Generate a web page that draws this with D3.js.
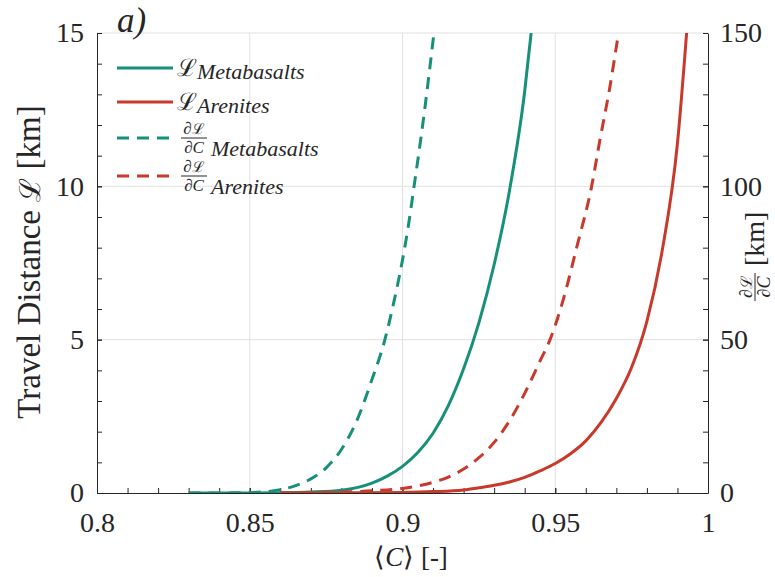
<!DOCTYPE html>
<html>
<head>
<meta charset="utf-8">
<script src="https://cdn.jsdelivr.net/npm/d3@7"></script>
<style>
  body { margin: 0; background: #fff; }
  svg { display: block; font-family: 'Liberation Serif', 'Times New Roman', serif; }
</style>
</head>
<body>
<svg id="chart" width="775" height="577"></svg>
<script>
/* values */
const metaL_C = [0.83, 0.85, 0.86, 0.87, 0.88, 0.89, 0.895, 0.9, 0.905, 0.91, 0.915, 0.92, 0.925, 0.93, 0.935, 0.94, 0.9421];
const metaL = [0, 0.002, 0.008, 0.03, 0.09, 0.32, 0.55, 0.87, 1.32, 1.95, 2.85, 4.05, 5.55, 7.45, 9.85, 13.1, 15];

const areL_C = [0.86, 0.88, 0.9, 0.91, 0.92, 0.925, 0.93, 0.935, 0.94, 0.945, 0.95, 0.955, 0.96, 0.965, 0.97, 0.975, 0.98, 0.985, 0.99, 0.993];
const areL = [0, 0.005, 0.02, 0.045, 0.1, 0.17, 0.25, 0.36, 0.51, 0.72, 0.96, 1.28, 1.7, 2.3, 3.08, 4.1, 5.6, 7.9, 11.4, 15];

const metaD_C = [0.83, 0.845, 0.855, 0.86, 0.865, 0.87, 0.875, 0.88, 0.885, 0.89, 0.8941, 0.897, 0.9, 0.9019, 0.9035, 0.907, 0.9103];
const metaD = [0, 0.05, 0.4, 1.1, 2.4, 4.6, 8.2, 14.2, 23.5, 37, 49.5, 61.5, 76, 87, 98, 123, 150];

const areD_C = [0.86, 0.88, 0.89, 0.9, 0.905, 0.91, 0.915, 0.92, 0.925, 0.93, 0.935, 0.94, 0.945, 0.9483, 0.9526, 0.957, 0.9619, 0.9646, 0.9679, 0.9707];
const areD = [0, 0.3, 0.7, 1.5, 2.3, 3.5, 5.2, 7.8, 11.5, 16.5, 23.5, 32.5, 43, 50, 63, 80, 100, 115, 132.5, 150];

const xTicks = [0.8, 0.85, 0.9, 0.95, 1];
const xTickLabels = ['0.8', '0.85', '0.9', '0.95', '1'];
const yLeftTicks = [0, 5, 10, 15];
const yRightTicks = [0, 50, 100, 150];

const GREEN = '#17907a';
const RED = '#c8392b';
const AXIS = '#262626';
const GRID = '#e1e1e1';
const SERIF = "'Liberation Serif', 'Times New Roman', serif";

const margin = { top: 33, right: 67, bottom: 84, left: 97 };
const totalWidth = 775;
const totalHeight = 577;
const width = totalWidth - margin.left - margin.right;
const height = totalHeight - margin.top - margin.bottom;
const STROKE_WIDTH = 3;
const TICK = 5;

const svg = d3.select('#chart');

const xScale = d3.scaleLinear([0.8, 1], [0, width]);
const yLeft = d3.scaleLinear([0, 15], [height, 0]);
const yRight = d3.scaleLinear([0, 150], [height, 0]);

const plot = svg.append('g').attr('transform', `translate(${margin.left}, ${margin.top})`);

/* grid */
plot.append('g')
  .selectAll('line')
  .data(xTicks.slice(1, -1))
  .enter()
  .append('line')
  .attr('x1', d => xScale(d)).attr('x2', d => xScale(d))
  .attr('y1', 0).attr('y2', height)
  .attr('stroke', GRID).attr('stroke-width', 1);

plot.append('g')
  .selectAll('line')
  .data(yLeftTicks.slice(1))
  .enter()
  .append('line')
  .attr('x1', 0).attr('x2', width)
  .attr('y1', d => yLeft(d)).attr('y2', d => yLeft(d))
  .attr('stroke', GRID).attr('stroke-width', 1);

/* axes */
function styleAxis(g) {
  g.attr('font-family', SERIF);
  g.selectAll('path').attr('stroke', AXIS).attr('stroke-width', 1);
  g.selectAll('line').attr('stroke', AXIS).attr('stroke-width', 1);
  g.selectAll('text').attr('fill', AXIS).attr('font-size', 28);
}

// minor ticks
plot.append('g')
  .attr('transform', `translate(0, ${height})`)
  .call(d3.axisBottom(xScale).tickValues(d3.range(80, 101).map(d => d / 100)).tickSize(-TICK).tickFormat(''))
  .call(g => g.select('.domain').remove())
  .call(styleAxis);
plot.append('g')
  .call(d3.axisLeft(yLeft).tickValues(d3.range(0, 16)).tickSize(-TICK).tickFormat(''))
  .call(g => g.select('.domain').remove())
  .call(styleAxis);
plot.append('g')
  .attr('transform', `translate(${width}, 0)`)
  .call(d3.axisRight(yRight).tickValues(d3.range(0, 151, 10)).tickSize(-TICK).tickFormat(''))
  .call(g => g.select('.domain').remove())
  .call(styleAxis);

// major ticks + labels
plot.append('g')
  .attr('transform', `translate(0, ${height})`)
  .call(d3.axisBottom(xScale).tickValues(xTicks).tickSize(-TICK).tickSizeOuter(0).tickPadding(12)
    .tickFormat((d, i) => xTickLabels[i]))
  .call(styleAxis)
  .call(g => g.selectAll('text').attr('dy', '0.95em'));
plot.append('g')
  .call(d3.axisLeft(yLeft).tickValues(yLeftTicks).tickSize(-TICK).tickSizeOuter(0).tickPadding(13))
  .call(styleAxis);
plot.append('g')
  .attr('transform', `translate(${width}, 0)`)
  .call(d3.axisRight(yRight).tickValues(yRightTicks).tickSize(-TICK).tickSizeOuter(0).tickPadding(12))
  .call(styleAxis);

/* curves */
svg.append('defs')
  .append('clipPath').attr('id', 'plot-clip')
  .append('rect').attr('x', 0).attr('y', 0).attr('width', width).attr('height', height);

const series = [
  { xs: metaL_C, ys: metaL, y: yLeft, color: GREEN, dash: null },
  { xs: areL_C, ys: areL, y: yLeft, color: RED, dash: null },
  { xs: metaD_C, ys: metaD, y: yRight, color: GREEN, dash: '12,8' },
  { xs: areD_C, ys: areD, y: yRight, color: RED, dash: '12,8' }
];

const curves = plot.append('g').attr('clip-path', 'url(#plot-clip)');
series.forEach(function (s) {
  const pts = s.xs.map((c, i) => [c, s.ys[i]]);
  curves.append('path')
    .attr('fill', 'none')
    .attr('stroke', s.color)
    .attr('stroke-width', STROKE_WIDTH)
    .attr('stroke-dasharray', s.dash)
    .attr('d', d3.line()
      .x(d => xScale(d[0]))
      .y(d => s.y(d[1]))
      .curve(d3.curveMonotoneX)(pts));
});

/* legend */
const legend = svg.append('g');
const legendRows = [
  { y: 68, color: GREEN, dash: null, frac: false, sub: 'Metabasalts' },
  { y: 102, color: RED, dash: null, frac: false, sub: 'Arenites' },
  { y: 138, color: GREEN, dash: '12,8', frac: true, sub: 'Metabasalts' },
  { y: 176, color: RED, dash: '12,8', frac: true, sub: 'Arenites' }
];
legendRows.forEach(function (r) {
  legend.append('line')
    .attr('x1', 117).attr('x2', 173)
    .attr('y1', r.y).attr('y2', r.y)
    .attr('stroke', r.color).attr('stroke-width', STROKE_WIDTH)
    .attr('stroke-dasharray', r.dash);
  if (!r.frac) {
    legend.append('text')
      .attr('x', 177).attr('y', r.y + 8)
      .attr('font-family', 'DejaVu Serif').attr('font-size', 24)
      .attr('fill', AXIS)
      .text('ℒ');
    legend.append('text')
      .attr('x', 197).attr('y', r.y + 11)
      .attr('font-style', 'italic').attr('font-size', 22)
      .attr('fill', AXIS)
      .text(r.sub);
  } else {
    legend.append('line')
      .attr('x1', 181).attr('x2', 207)
      .attr('y1', r.y).attr('y2', r.y)
      .attr('stroke', AXIS).attr('stroke-width', 1);
    legend.append('text')
      .attr('x', 194).attr('y', r.y - 4)
      .attr('text-anchor', 'middle').attr('font-size', 17).attr('fill', AXIS)
      .html('∂<tspan font-family="DejaVu Serif" font-size="15">ℒ</tspan>');
    legend.append('text')
      .attr('x', 194).attr('y', r.y + 15)
      .attr('text-anchor', 'middle').attr('font-size', 17).attr('font-style', 'italic').attr('fill', AXIS)
      .text('∂C');
    legend.append('text')
      .attr('x', 211).attr('y', r.y + 18)
      .attr('font-style', 'italic').attr('font-size', 22)
      .attr('fill', AXIS)
      .text(r.sub);
  }
});

/* panel tag */
svg.append('text')
  .attr('x', 117).attr('y', 32)
  .attr('font-style', 'italic').attr('font-size', 35).attr('fill', AXIS)
  .text('a)');

/* axis titles */
svg.append('text')
  .attr('transform', 'translate(40, 262) rotate(-90)')
  .attr('text-anchor', 'middle').attr('font-size', 33).attr('fill', AXIS)
  .html('Travel Distance <tspan font-family="DejaVu Serif" font-size="29">ℒ</tspan> [km]');

svg.append('text')
  .attr('x', 411).attr('y', 566)
  .attr('text-anchor', 'middle').attr('font-size', 27).attr('fill', AXIS)
  .html('⟨<tspan font-style="italic">C</tspan>⟩ [-]');

const rightTitle = svg.append('g')
  .attr('transform', 'translate(755, 260) rotate(-90)');
rightTitle.append('line')
  .attr('x1', -41).attr('x2', -13).attr('y1', 0).attr('y2', 0)
  .attr('stroke', AXIS).attr('stroke-width', 1);
rightTitle.append('text')
  .attr('x', -27).attr('y', -3)
  .attr('text-anchor', 'middle').attr('font-size', 18).attr('fill', AXIS)
  .html('∂<tspan font-family="DejaVu Serif" font-size="16">ℒ</tspan>');
rightTitle.append('text')
  .attr('x', -27).attr('y', 15)
  .attr('text-anchor', 'middle').attr('font-size', 18).attr('font-style', 'italic').attr('fill', AXIS)
  .text('∂C');
rightTitle.append('text')
  .attr('x', -6).attr('y', 9)
  .attr('font-size', 28).attr('fill', AXIS)
  .text('[km]');
</script>
</body>
</html>
